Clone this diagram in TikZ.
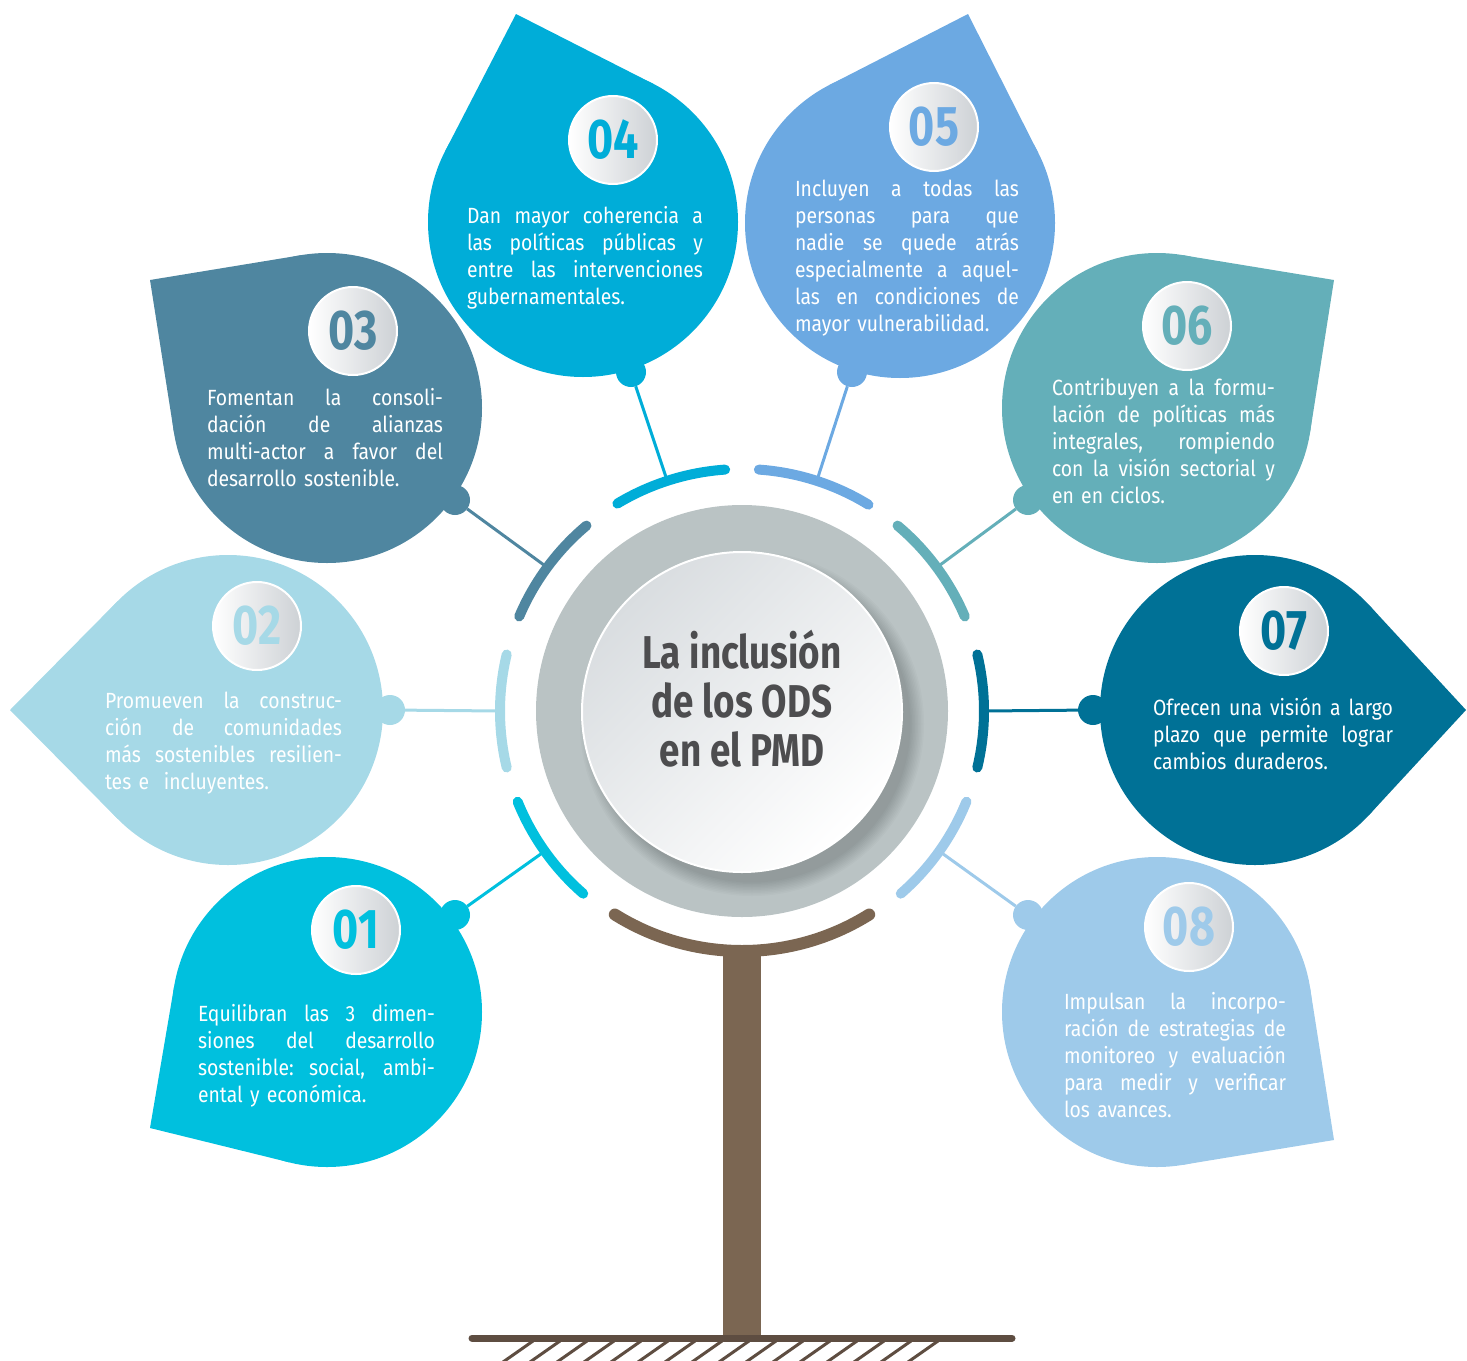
\documentclass[tikz,border=0pt]{standalone}
\usepackage{fontspec}
\setmainfont{Fira Sans}[FakeStretch=0.88]
\newfontfamily\numfont{Fira Sans}[FakeStretch=0.8]
\usetikzlibrary{calc}
\definecolor{cA}{HTML}{00C0DE}
\definecolor{cB}{HTML}{A6D9E7}
\definecolor{cC}{HTML}{4F86A0}
\definecolor{cD}{HTML}{00ADD8}
\definecolor{cE}{HTML}{6CA9E2}
\definecolor{cF}{HTML}{64AFB9}
\definecolor{cG}{HTML}{007196}
\definecolor{cH}{HTML}{9ECAEA}
\definecolor{trunkbrown}{HTML}{7B6652}
\definecolor{groundbrown}{HTML}{5E4D41}
\definecolor{ringgray}{HTML}{BAC3C4}
\definecolor{innergray}{HTML}{D9DDE0}
\definecolor{discgray}{HTML}{CDD1D5}
\definecolor{titlegray}{HTML}{4D4D4F}
\tikzset{
  petalbody/.style={circle, fill=#1, inner sep=0pt, outer sep=0pt, minimum size=155pt},
  knob/.style={circle, fill=#1, inner sep=0pt, outer sep=0pt, minimum size=15pt},
  numdisc/.style={circle, inner sep=0pt, minimum size=44pt, left color=white, right color=discgray, draw=white, line width=1pt, text=#1, font=\numfont\bfseries\fontsize{28}{30}\selectfont},
  body/.style={anchor=base west, text=white, inner sep=0pt, outer sep=0pt, font=\fontsize{11}{13.5}\selectfont, align=left},
  ringarc/.style={draw=#1, line width=5pt, line cap=round},
  conn/.style={draw=#1, line width=1.5pt},
  hatchline/.style={draw=groundbrown, line width=1.5pt}
}
\newcommand\petal[4]{%
  \node[petalbody=#2] (#1) at (#3) {};
  \coordinate (#1tip) at (#4);
  \fill[#2] (#1tip) -- (tangent cs:node=#1,point={(#1tip)},solution=1)
     -- (tangent cs:node=#1,point={(#1tip)},solution=2) -- cycle;}
% justified line of given width
\newcommand\jl[2]{{\spaceskip=0.22em plus 1fil\xspaceskip=0.22em plus 1fil\makebox[#1][s]{#2}}}
\begin{document}
\begin{tikzpicture}[x=0.5pt, y=-0.5pt]
\useasboundingbox (0,0) rectangle (1467,1360);
\coordinate (c) at (742,711);
% petals
\petal{p1}{cA}{327,1012}{150,1128}
\petal{p2}{cB}{228,710}{10,710}
\petal{p3}{cC}{327,408}{150,280}
\petal{p4}{cD}{583,222}{516,14}
\petal{p5}{cE}{900,223}{968,14}
\petal{p6}{cF}{1157,408}{1334,280}
\petal{p7}{cG}{1255,710}{1466,710}
\petal{p8}{cH}{1157,1012}{1334,1140}
% knobs
\node[knob=cA] (k1) at (455,915) {};
\node[knob=cB] (k2) at (390,710) {};
\node[knob=cC] (k3) at (455,500) {};
\node[knob=cD] (k4) at (631,372) {};
\node[knob=cE] (k5) at (852,372) {};
\node[knob=cF] (k6) at (1028,500) {};
\node[knob=cG] (k7) at (1093,710) {};
\node[knob=cH] (k8) at (1028,915) {};
% ring anchor points
\coordinate (a1) at ($(c)+(144.6:242)$);
\coordinate (a2) at ($(c)+(180:242)$);
\coordinate (a3) at ($(c)+(-143.6:242)$);
\coordinate (a4) at ($(c)+(-108:242)$);
\coordinate (a5) at ($(c)+(-72:242)$);
\coordinate (a6) at ($(c)+(-36.4:242)$);
\coordinate (a7) at ($(c)+(0:242)$);
\coordinate (a8) at ($(c)+(35.4:242)$);
\draw[conn=cA] (k1) -- (a1);
\draw[conn=cB] (k2) -- (a2);
\draw[conn=cC] (k3) -- (a3);
\draw[conn=cD] (k4) -- (a4);
\draw[conn=cE] (k5) -- (a5);
\draw[conn=cF] (k6) -- (a6);
\draw[conn=cG] (k7) -- (a7);
\draw[conn=cH] (k8) -- (a8);
% ring arcs
\draw[ringarc=cA] ($(c)+(131:242)$) arc[start angle=131, end angle=158, radius=242];
\draw[ringarc=cB] ($(c)+(166.5:242)$) arc[start angle=166.5, end angle=193.5, radius=242];
\draw[ringarc=cC] ($(c)+(-157:242)$) arc[start angle=-157, end angle=-130, radius=242];
\draw[ringarc=cD] ($(c)+(-121:242)$) arc[start angle=-121, end angle=-94, radius=242];
\draw[ringarc=cE] ($(c)+(-86:242)$) arc[start angle=-86, end angle=-58.5, radius=242];
\draw[ringarc=cF] ($(c)+(-50:242)$) arc[start angle=-50, end angle=-23, radius=242];
\draw[ringarc=cG] ($(c)+(-13.5:242)$) arc[start angle=-13.5, end angle=13.5, radius=242];
\draw[ringarc=cH] ($(c)+(22:242)$) arc[start angle=22, end angle=49, radius=242];
\draw[draw=trunkbrown, line width=6pt, line cap=round] ($(c)+(58:240)$) arc[start angle=58, end angle=122, radius=240];
% centre
\node[circle, fill=ringgray, minimum size=206pt, inner sep=0pt] (ring) at (c) {};
\foreach \k in {0,...,9}{\fill[black, opacity=0.018] (752,724) circle[radius=172-\k*1.5];}
\node[circle, minimum size=160pt, inner sep=0pt, top color=innergray, bottom color=white, shading angle=45, draw=white, line width=1pt] (inner) at (742,712) {};
\node[font=\numfont\bfseries\fontsize{23}{24.5}\selectfont, text=titlegray, align=center, inner sep=0pt] (title) at (742,699) {La inclusión\\de los ODS\\en el PMD};
% trunk and ground
\fill[trunkbrown] (723,946) rectangle (761,1338);
\coordinate (g1) at (472,1338);
\coordinate (g2) at (1012,1338);
\draw[draw=groundbrown, line width=3.5pt, line cap=round] (g1) -- (g2);
\foreach \i in {0,...,15}{\draw[hatchline] (503+27*\i,1362) -- (533+27*\i,1341);}
% number discs
\node[numdisc=cA] (n1) at (356,930) {01};
\node[numdisc=cB] (n2) at (257,626) {02};
\node[numdisc=cC] (n3) at (353,331) {03};
\node[numdisc=cD] (n4) at (613,140) {04};
\node[numdisc=cE] (n5) at (934,127) {05};
\node[numdisc=cF] (n6) at (1187,326) {06};
\node[numdisc=cG] (n7) at (1284,631) {07};
\node[numdisc=cH] (n8) at (1189,927) {08};
% texts
\node[body, text width=118.5pt] (d1) at (198,1021) {\jl{118.5pt}{Equilibran las 3 dimen-}\\\jl{118.5pt}{siones del desarrollo}\\\jl{118.5pt}{sostenible: social, ambi-}\\ental y económica.};
\node[body, text width=118.5pt] (d2) at (105,708) {\jl{118.5pt}{Promueven la construc-}\\\jl{118.5pt}{ción de comunidades}\\\jl{118.5pt}{más sostenibles resilien-}\\tes e~ incluyentes.};
\node[body, text width=118pt] (d3) at (207,405) {\jl{118pt}{Fomentan la consoli-}\\\jl{118pt}{dación de alianzas}\\\jl{118pt}{multi-actor a favor del}\\desarrollo sostenible.};
\node[body, text width=118pt] (d4) at (467,223) {\jl{118pt}{Dan mayor coherencia a}\\\jl{118pt}{las políticas públicas y}\\\jl{118pt}{entre las intervenciones}\\gubernamentales.};
\node[body, text width=112pt] (d5) at (795,196) {\jl{112pt}{Incluyen a todas las}\\\jl{112pt}{personas para que}\\\jl{112pt}{nadie se quede atrás}\\\jl{112pt}{especialmente a aquel-}\\\jl{112pt}{las en condiciones de}\\mayor vulnerabilidad.};
\node[body, text width=111.5pt] (d6) at (1052,395) {\jl{111.5pt}{Contribuyen a la formu-}\\\jl{111.5pt}{lación de políticas más}\\\jl{111.5pt}{integrales, rompiendo}\\\jl{111.5pt}{con la visión sectorial y}\\en en ciclos.};
\node[body, text width=120pt] (d7) at (1153,715) {\jl{120pt}{Ofrecen una visión a largo}\\\jl{120pt}{plazo que permite lograr}\\cambios duraderos.};
\node[body, text width=111pt] (d8) at (1064,1009) {\jl{111pt}{Impulsan la incorpo-}\\\jl{111pt}{ración de estrategias de}\\\jl{111pt}{monitoreo y evaluación}\\\jl{111pt}{para medir y verificar}\\los avances.};
\end{tikzpicture}
\end{document}
